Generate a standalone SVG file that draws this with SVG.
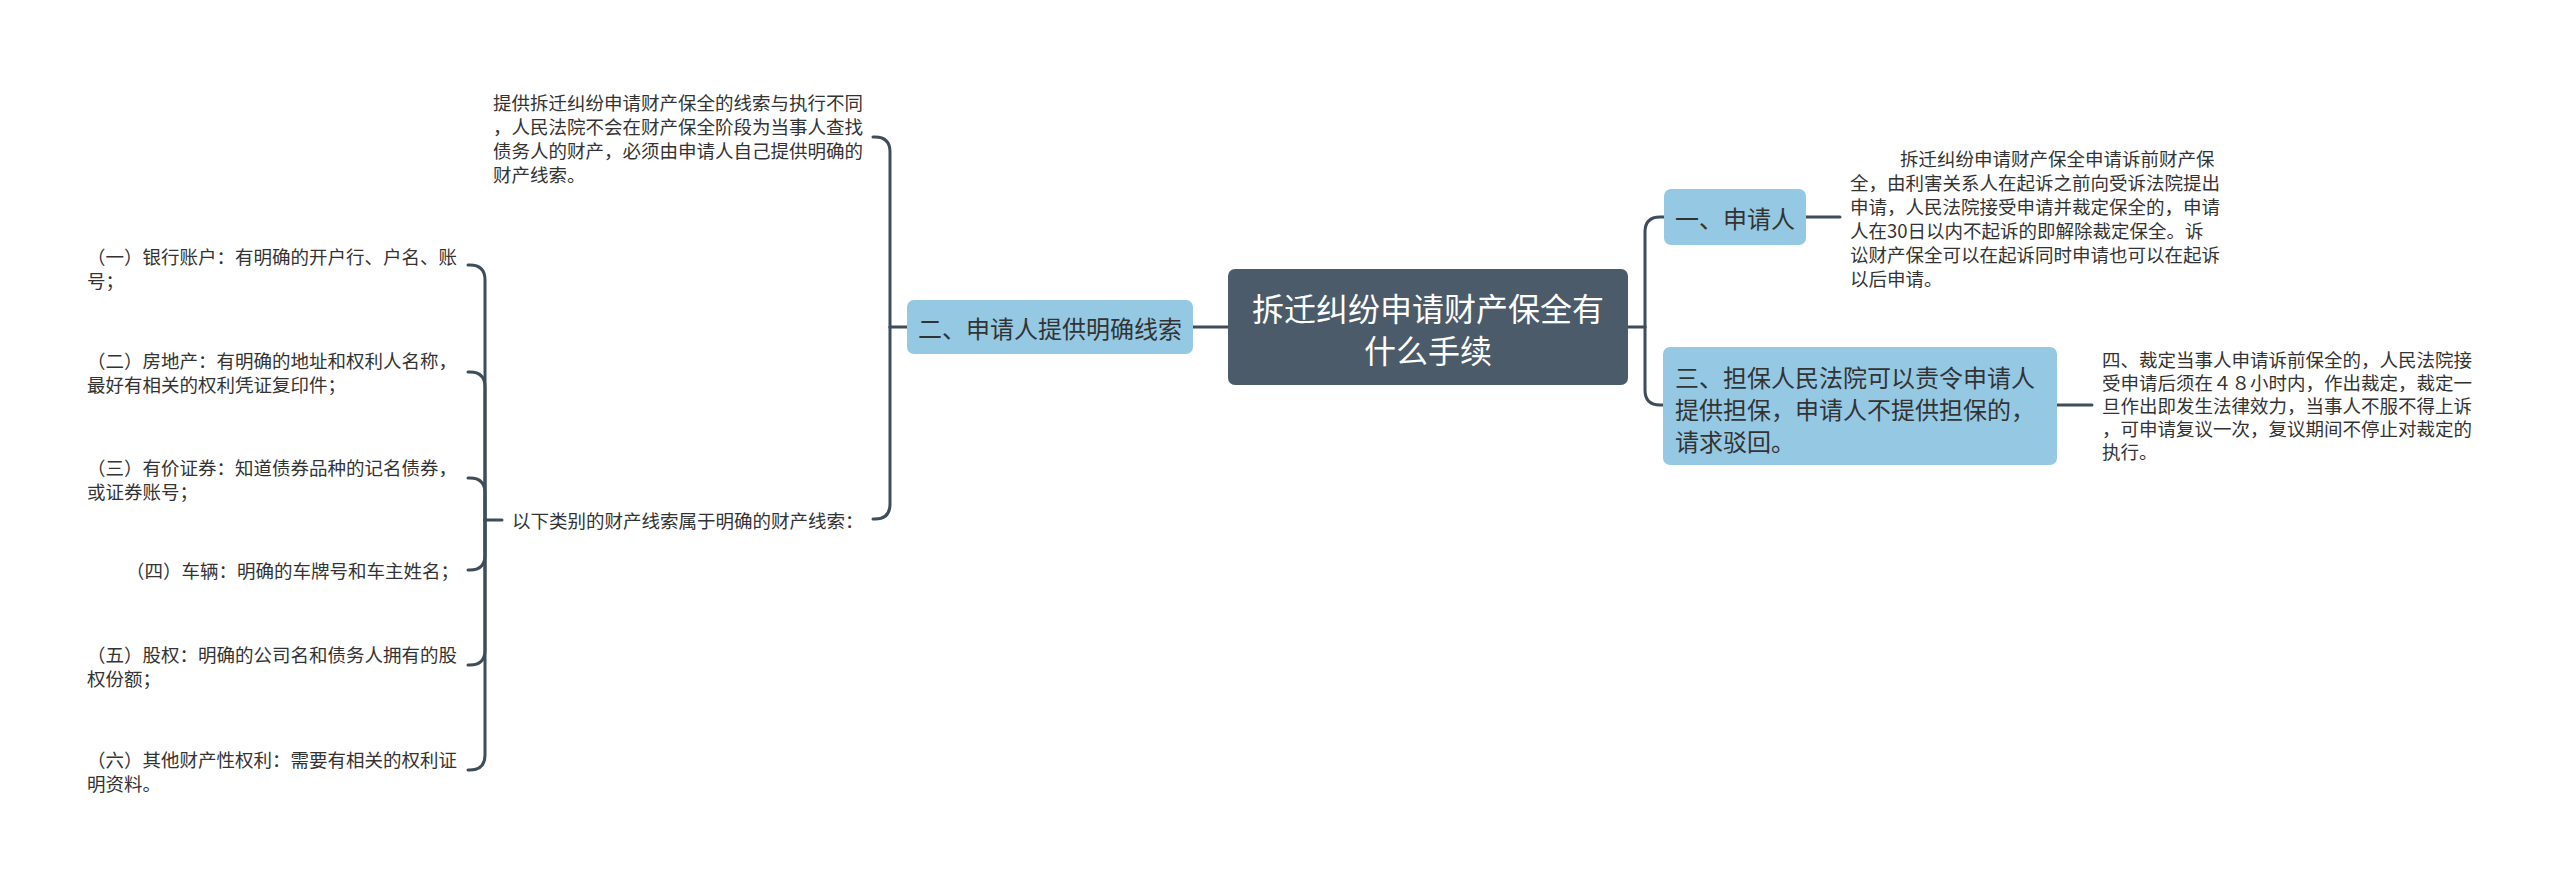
<svg xmlns="http://www.w3.org/2000/svg" width="2560" height="883" viewBox="0 0 2560 883">
<style>
.bg{fill:#ffffff}
.conn path{fill:none;stroke:#3f4c59;stroke-width:3;stroke-linecap:round}
.root rect{fill:#4c5b6a}
.l1 rect{fill:#95c9e3}
text{font-family:"Noto Sans CJK SC","Noto Sans",sans-serif;dominant-baseline:central}
.rt{fill:#ffffff;font-size:32px}
.t1{fill:#333333;font-size:24px}
.t2{fill:#333333;font-size:18.5px}
</style>
<rect class="bg" x="0" y="0" width="2560" height="883"/>
<g class="conn" id="connectors">
<path d="M1628 327 L1645 327"/>
<path d="M1645 327 L1645 232 Q1645 217 1660 217 L1664 217"/>
<path d="M1645 327 L1645 390 Q1645 405 1660 405 L1664 405"/>
<path d="M1806 217 L1840 217"/>
<path d="M2057 405 L2092 405"/>
<path d="M1228 327 L1193 327"/>
<path d="M907 327 L890 327"/>
<path d="M890 327 L890 152 Q890 137 875 137 L873 137"/>
<path d="M890 327 L890 504 Q890 519 875 519 L873 519"/>
<path d="M502 520 L485 520"/>
<path d="M485 520 L485 280 Q485 265 470 265 L468 265"/>
<path d="M485 520 L485 387 Q485 372 470 372 L468 372"/>
<path d="M485 520 L485 493 Q485 478 470 478 L468 478"/>
<path d="M485 520 L485 555 Q485 570 470 570 L468 570"/>
<path d="M485 520 L485 650 Q485 665 470 665 L468 665"/>
<path d="M485 520 L485 755 Q485 770 470 770 L468 770"/>
</g>
<g id="root" class="root">
<rect x="1228" y="269" width="400" height="116" rx="7"/>
<text class="rt" x="1428" y="307" text-anchor="middle">拆迁纠纷申请财产保全有</text>
<text class="rt" x="1428" y="349" text-anchor="middle">什么手续</text>
</g>
<g id="n1" class="l1">
<rect x="1664" y="189" width="142" height="56" rx="7"/>
<text class="t1" x="1735" y="217" text-anchor="middle">一、申请人</text>
</g>
<g id="n1-text">
<text class="t2" x="1900" y="158">拆迁纠纷申请财产保全申请诉前财产保</text>
<text class="t2" x="1850" y="182">全，由利害关系人在起诉之前向受诉法院提出</text>
<text class="t2" x="1850" y="206">申请，人民法院接受申请并裁定保全的，申请</text>
<text class="t2" x="1850" y="230">人在30日以内不起诉的即解除裁定保全。诉</text>
<text class="t2" x="1850" y="254">讼财产保全可以在起诉同时申请也可以在起诉</text>
<text class="t2" x="1850" y="278">以后申请。</text>
</g>
<g id="n3" class="l1">
<rect x="1663" y="347" width="394" height="118" rx="7"/>
<text class="t1" x="1675" y="376">三、担保人民法院可以责令申请人</text>
<text class="t1" x="1675" y="408">提供担保，申请人不提供担保的，</text>
<text class="t1" x="1675" y="440">请求驳回。</text>
</g>
<g id="n3-text">
<text class="t2" x="2102" y="359">四、裁定当事人申请诉前保全的，人民法院接</text>
<text class="t2" x="2102" y="382">受申请后须在４８小时内，作出裁定，裁定一</text>
<text class="t2" x="2102" y="405">旦作出即发生法律效力，当事人不服不得上诉</text>
<text class="t2" x="2102" y="428">，可申请复议一次，复议期间不停止对裁定的</text>
<text class="t2" x="2102" y="451">执行。</text>
</g>
<g id="n2" class="l1">
<rect x="907" y="300" width="286" height="54" rx="7"/>
<text class="t1" x="1050" y="327" text-anchor="middle">二、申请人提供明确线索</text>
</g>
<g id="n2-top">
<text class="t2" x="493" y="102">提供拆迁纠纷申请财产保全的线索与执行不同</text>
<text class="t2" x="493" y="126">，人民法院不会在财产保全阶段为当事人查找</text>
<text class="t2" x="493" y="150">债务人的财产，必须由申请人自己提供明确的</text>
<text class="t2" x="493" y="174">财产线索。</text>
</g>
<g id="n2-list">
<text class="t2" x="512" y="520">以下类别的财产线索属于明确的财产线索：</text>
</g>
<g id="item1">
<text class="t2" x="87" y="256">（一）银行账户：有明确的开户行、户名、账</text>
<text class="t2" x="87" y="280">号；</text>
</g>
<g id="item2">
<text class="t2" x="87" y="360">（二）房地产：有明确的地址和权利人名称，</text>
<text class="t2" x="87" y="384">最好有相关的权利凭证复印件；</text>
</g>
<g id="item3">
<text class="t2" x="87" y="467">（三）有价证券：知道债券品种的记名债券，</text>
<text class="t2" x="87" y="491">或证券账号；</text>
</g>
<g id="item4">
<text class="t2" x="459" y="570" text-anchor="end">（四）车辆：明确的车牌号和车主姓名；</text>
</g>
<g id="item5">
<text class="t2" x="87" y="654">（五）股权：明确的公司名和债务人拥有的股</text>
<text class="t2" x="87" y="678">权份额；</text>
</g>
<g id="item6">
<text class="t2" x="87" y="759">（六）其他财产性权利：需要有相关的权利证</text>
<text class="t2" x="87" y="783">明资料。</text>
</g>
</svg>
